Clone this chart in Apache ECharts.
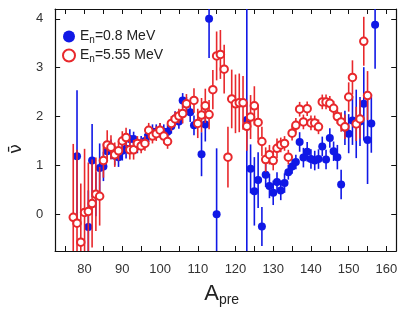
<!DOCTYPE html>
<html>
<head>
<meta charset="utf-8">
<script src="https://cdn.jsdelivr.net/npm/echarts@6/dist/echarts.min.js"></script>
<style>
  html, body { margin: 0; padding: 0; background: #fff; }
  #chart { width: 400px; height: 312px; }
</style>
</head>
<body>
<div id="chart"></div>
<script>
// E_n = 0.8 MeV (filled blue)
const massBlue = [78, 81, 82, 83, 84, 85, 86, 87, 88, 89, 90, 91, 92, 93, 94, 95, 96, 97, 98, 99, 100, 101, 102, 103, 104, 105, 106, 107, 108, 109, 111, 112, 113, 115, 123, 124, 125, 126, 127, 128, 129, 130, 131, 132, 133, 134, 135, 136, 137, 138, 139, 140, 141, 142, 143, 144, 145, 146, 147, 148, 149, 150, 151, 152, 153, 154, 155, 156, 157];
const nuBlue = [1.19, -0.26, 1.1, 0.41, 0.95, 0.98, 1.29, 1.33, 1.2, 1.17, 1.3, 1.34, 1.54, 1.54, 1.4, 1.45, 1.5, 1.63, 1.69, 1.69, 1.72, 1.69, 1.69, 1.8, 1.96, 1.9, 2.33, 2.25, 2.09, 1.82, 1.23, 1.84, 4.0, 0.0, 1.93, 0.93, 0.47, 0.7, -0.25, 0.81, 0.58, 0.44, 0.66, 0.49, 0.64, 0.86, 0.98, 1.07, 1.48, 1.16, 1.28, 1.13, 1.1, 1.13, 1.39, 1.12, 1.56, 1.29, 1.17, 0.61, 1.77, 1.65, 1.92, 1.85, 1.9, 2.26, 1.52, 1.86, 3.88];
const errBlue = [1.35, 0.75, 0.75, 0.45, 0.5, 0.3, 0.2, 0.2, 0.2, 0.2, 0.2, 0.2, 0.2, 0.15, 0.15, 0.15, 0.15, 0.15, 0.15, 0.15, 0.15, 0.15, 0.15, 0.15, 0.15, 0.15, 0.15, 0.15, 0.2, 0.2, 0.45, 0.35, 0.8, 1.35, 6, 0.5, 0.7, 0.57, 0.4, 0.25, 0.25, 0.25, 0.2, 0.2, 0.2, 0.15, 0.15, 0.15, 0.2, 0.2, 0.2, 0.2, 0.2, 0.2, 0.2, 0.2, 0.2, 0.2, 0.25, 0.3, 0.35, 0.4, 0.5, 0.7, 0.5, 0.75, 0.9, 0.6, 0.9];

// E_n = 5.55 MeV (open red)
const massRed = [77, 78, 79, 80, 81, 82, 83, 84, 85, 86, 87, 88, 89, 90, 91, 92, 93, 94, 95, 96, 97, 98, 99, 100, 101, 102, 103, 104, 105, 106, 107, 109, 110, 111, 112, 113, 114, 115, 116, 117, 118, 119, 120, 121, 122, 123, 124, 125, 126, 127, 128, 129, 130, 131, 132, 133, 134, 135, 136, 137, 138, 139, 140, 141, 142, 143, 144, 145, 146, 147, 148, 149, 150, 151, 152, 153, 154, 155];
const nuRed = [-0.06, -0.18, -0.57, 0.04, 0.06, 0.22, 0.41, 0.37, 1.1, 1.42, 1.37, 1.22, 1.3, 1.5, 1.57, 1.32, 1.32, 1.45, 1.4, 1.45, 1.72, 1.6, 1.65, 1.72, 1.6, 1.49, 1.86, 1.95, 2.01, 2.06, 2.26, 2.33, 1.86, 2.03, 2.22, 2.04, 2.55, 3.24, 3.27, 2.97, 1.17, 2.36, 2.26, 2.28, 2.28, 1.8, 1.99, 2.22, 1.88, 1.49, 1.12, 1.22, 1.1, 1.35, 1.42, 1.45, 1.17, 1.66, 1.82, 2.15, 1.89, 2.16, 1.87, 1.87, 1.79, 2.3, 2.3, 2.27, 2.17, 2.0, 1.89, 1.79, 2.4, 2.8, 1.85, 1.95, 3.54, 2.43];
const errRed = [1.5, 1.5, 1.2, 1.3, 1.0, 0.9, 0.75, 0.6, 0.35, 0.3, 0.25, 0.25, 0.2, 0.2, 0.2, 0.2, 0.2, 0.15, 0.15, 0.15, 0.15, 0.15, 0.15, 0.15, 0.15, 0.15, 0.15, 0.15, 0.15, 0.2, 0.2, 0.25, 0.3, 0.35, 0.35, 0.3, 0.4, 0.5, 0.5, 0.5, 0.62, 0.6, 0.6, 0.6, 0.55, 0.5, 0.45, 0.4, 0.35, 0.3, 0.25, 0.2, 0.2, 0.2, 0.15, 0.15, 0.15, 0.15, 0.15, 0.15, 0.15, 0.15, 0.15, 0.15, 0.15, 0.15, 0.15, 0.15, 0.15, 0.15, 0.2, 0.25, 0.3, 0.35, 0.35, 0.4, 0.5, 0.5];

const xTicks = [75, 80, 85, 90, 95, 100, 105, 110, 115, 120, 125, 130, 135, 140, 145, 150, 155, 160];
const xLabels = [80, 90, 100, 110, 120, 130, 140, 150, 160];
const yTicks = [0, 1, 2, 3, 4];

const X_MIN = 72.2, X_MAX = 162.6, Y_MIN = -0.75, Y_MAX = 4.2;
const BLUE = '#1018e6';
const RED = '#e8282c';
const FONT = 'Liberation Sans';

const chart = echarts.init(document.getElementById('chart'), null, { renderer: 'canvas' });

function rows(m, v, e) {
  return m.map((a, i) => [a, v[i], e[i]]);
}

// vertical error bar, clipped to the plotting range
function errBars(color) {
  return function (params, api) {
    const x = api.value(0), y = api.value(1), e = api.value(2);
    const lo = Math.max(y - e, Y_MIN), hi = Math.min(y + e, Y_MAX);
    const p1 = api.coord([x, lo]);
    const p2 = api.coord([x, hi]);
    return {
      type: 'line',
      shape: { x1: p1[0], y1: p1[1], x2: p2[0], y2: p2[1] },
      style: { stroke: color, lineWidth: 1.6 }
    };
  };
}

const axisLine = { show: true, onZero: false, lineStyle: { color: '#111', width: 1.2 } };
const legendRich = {
  e: { fontSize: 14, fontFamily: FONT, color: '#222', lineHeight: 17, verticalAlign: 'middle' },
  s: { fontSize: 10, fontFamily: FONT, color: '#222', lineHeight: 17, verticalAlign: 'bottom', padding: [7, 0, 0, 0] }
};

const option = {
  animation: false,
  backgroundColor: '#fff',
  grid: { left: 46, right: 2, top: 9, bottom: 58 },
  legend: {
    orient: 'vertical',
    left: 57,
    top: 23,
    itemGap: 2,
    itemWidth: 12,
    itemHeight: 12,
    data: ['0.8', '5.55'],
    formatter: name => '{e|E}{s|n}{e|=' + name + ' MeV}',
    textStyle: { rich: legendRich }
  },
  xAxis: [
    {
      type: 'value', min: X_MIN, max: X_MAX, position: 'bottom',
      name: '{a|A}{p|pre}',
      nameLocation: 'middle', nameGap: 30,
      nameTextStyle: {
        padding: [0, 8, 0, 0],
        rich: {
          a: { fontSize: 22, fontFamily: FONT, color: '#222', lineHeight: 26, verticalAlign: 'middle' },
          p: { fontSize: 14, fontFamily: FONT, color: '#222', lineHeight: 26, verticalAlign: 'bottom', padding: [12, 0, 0, 0] }
        }
      },
      axisLine: axisLine,
      axisTick: { inside: true, length: 5, customValues: xTicks, lineStyle: { color: '#111' } },
      axisLabel: { customValues: xLabels, fontSize: 13, fontFamily: FONT, color: '#333', margin: 12 },
      splitLine: { show: false }
    },
    {
      type: 'value', min: X_MIN, max: X_MAX, position: 'top',
      axisLine: axisLine,
      axisTick: { inside: true, length: 5, customValues: xTicks, lineStyle: { color: '#111' } },
      axisLabel: { show: false },
      splitLine: { show: false }
    }
  ],
  yAxis: [
    {
      type: 'value', min: Y_MIN, max: Y_MAX, position: 'left',
      name: 'ν\u0304',
      nameLocation: 'middle', nameRotate: 90, nameGap: 30,
      nameTextStyle: { fontSize: 17, fontFamily: 'DejaVu Sans', color: '#222', padding: [0, 0, 0, -38] },
      axisLine: axisLine,
      axisTick: { inside: true, length: 5, customValues: yTicks, lineStyle: { color: '#111' } },
      axisLabel: { customValues: yTicks, fontSize: 13, fontFamily: FONT, color: '#333', margin: 12 },
      splitLine: { show: false }
    },
    {
      type: 'value', min: Y_MIN, max: Y_MAX, position: 'right',
      axisLine: axisLine,
      axisTick: { inside: true, length: 5, customValues: yTicks, lineStyle: { color: '#111' } },
      axisLabel: { show: false },
      splitLine: { show: false }
    }
  ],
  series: [
    {
      name: 'blueErr', type: 'custom', renderItem: errBars(BLUE),
      data: rows(massBlue, nuBlue, errBlue), z: 2, silent: true
    },
    {
      name: '0.8', type: 'scatter', symbol: 'circle', symbolSize: 8,
      data: rows(massBlue, nuBlue, errBlue),
      itemStyle: { color: BLUE, opacity: 1 }, z: 3
    },
    {
      name: 'redErr', type: 'custom', renderItem: errBars(RED),
      data: rows(massRed, nuRed, errRed), z: 4, silent: true
    },
    {
      name: '5.55', type: 'scatter', symbol: 'emptyCircle', symbolSize: 7.5,
      data: rows(massRed, nuRed, errRed),
      itemStyle: { color: RED, borderColor: RED, borderWidth: 1.2, opacity: 1 }, z: 5
    }
  ]
};

chart.setOption(option);
</script>
</body>
</html>
